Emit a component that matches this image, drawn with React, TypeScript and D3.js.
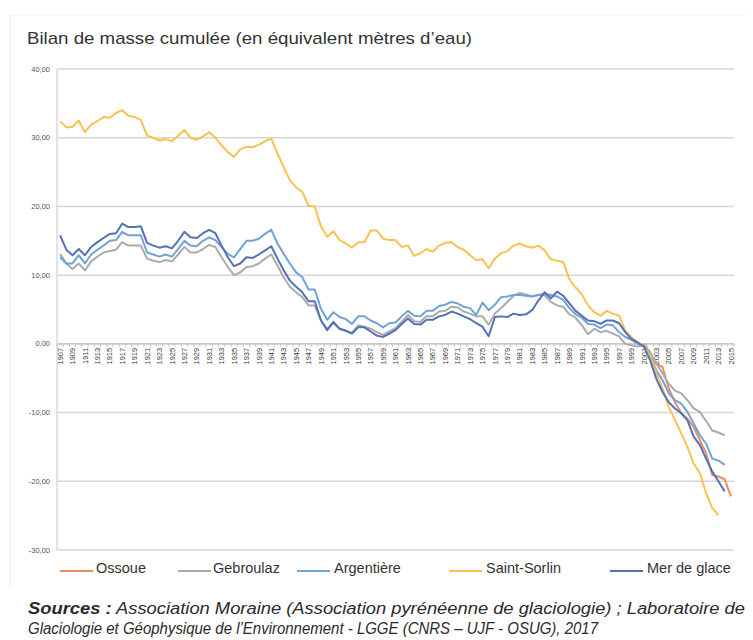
import * as d3 from "d3";

const years: number[] = d3.range(1907, 2016);
const labelYears = years.filter((y) => (y - 1907) % 2 === 0);
const yTicks = [40, 30, 20, 10, 0, -10, -20, -30];

// 1907..2014
const gebroulaz = [
  13.1, 11.7, 10.9, 11.7, 10.7, 12.0, 12.7, 13.3, 13.5, 13.7,
  14.8, 14.3, 14.3, 14.3, 12.4, 12.1, 11.9, 12.2, 12.0, 13.0,
  14.1, 13.3, 13.3, 13.8, 14.4, 14.1, 12.6, 11.2, 10.0, 10.4,
  11.2, 11.3, 11.7, 12.4, 13.0, 11.4, 9.7, 8.3, 7.5, 6.8,
  5.6, 5.6, 3.4, 2.2, 3.0, 2.2, 1.9, 1.6, 2.7, 2.5,
  2.2, 1.7, 1.3, 1.8, 2.3, 3.2, 4.2, 3.3, 3.2, 4.0,
  4.0, 4.7, 4.8, 5.4, 5.3, 4.7, 4.4, 4.0, 4.0, 2.8,
  4.4, 5.2, 6.1, 7.0, 7.4, 7.2, 6.9, 7.1, 7.1, 6.1,
  5.6, 5.4, 4.3, 3.8, 2.7, 1.4, 2.2, 1.7, 1.9, 1.5,
  1.1, 0.0, -0.2, -0.4, -0.1, -1.2, -2.9, -4.3, -5.8, -6.8,
  -7.2, -8.2, -9.4, -9.9, -11.2, -12.6, -12.9, -13.3,
];

// 1907..2014
const argentiere = [
  12.6, 11.7, 11.7, 12.9, 11.7, 13.0, 13.7, 14.3, 15.0, 15.1,
  16.3, 15.8, 15.8, 15.8, 13.3, 13.0, 12.7, 13.0, 12.7, 13.8,
  15.0, 14.3, 14.2, 15.0, 15.5, 15.1, 14.1, 13.1, 12.6, 13.8,
  15.0, 15.0, 15.3, 16.0, 16.6, 14.6, 13.1, 11.7, 10.4, 9.7,
  7.9, 7.9, 5.1, 3.5, 4.6, 3.9, 3.6, 2.9, 4.0, 4.0,
  3.4, 3.0, 2.4, 3.0, 3.1, 4.0, 4.8, 4.1, 4.0, 4.8,
  4.8, 5.5, 5.7, 6.1, 5.9, 5.4, 5.2, 4.2, 6.0, 4.9,
  5.7, 6.8, 6.9, 7.1, 7.1, 7.0, 6.9, 7.1, 7.3, 7.1,
  6.9, 6.4, 5.2, 4.3, 3.8, 2.9, 2.8, 2.3, 2.8, 2.7,
  1.7, 1.0, 0.6, 0.0, -0.4, -1.7, -3.9, -5.3, -7.2, -8.2,
  -8.7, -9.9, -11.6, -13.3, -14.5, -16.7, -17.0, -17.6,
];

// 1907..2013
const saintSorlin = [
  32.4, 31.5, 31.6, 32.5, 30.8, 31.9, 32.4, 33.0, 32.9, 33.6,
  34.0, 33.2, 33.0, 32.6, 30.3, 30.0, 29.6, 29.8, 29.5, 30.3,
  31.1, 30.0, 29.7, 30.2, 30.8, 30.0, 28.9, 27.9, 27.2, 28.3,
  28.7, 28.6, 29.0, 29.5, 29.9, 27.7, 25.7, 23.8, 22.8, 22.1,
  20.1, 20.0, 17.1, 15.6, 16.4, 15.1, 14.6, 14.0, 14.8, 14.8,
  16.5, 16.5, 15.3, 15.1, 15.1, 14.1, 14.3, 12.8, 13.2, 13.8,
  13.4, 14.3, 14.7, 14.8, 14.1, 13.7, 12.9, 12.2, 12.3, 11.0,
  12.4, 13.2, 13.5, 14.3, 14.6, 14.2, 14.0, 14.3, 13.6, 12.3,
  12.1, 11.9, 9.4, 8.2, 7.2, 5.6, 4.6, 4.1, 4.8, 4.4,
  4.1, 1.9, 1.0, 0.2, -0.4, -1.7, -4.3, -6.5, -9.2, -11.1,
  -13.0, -15.0, -17.4, -18.8, -21.7, -23.9, -24.9,
];

// 1907..2014
const merDeGlace = [
  15.8, 13.7, 12.9, 13.8, 12.9, 14.1, 14.8, 15.4, 16.0, 16.1,
  17.5, 17.0, 17.0, 17.1, 14.7, 14.3, 14.0, 14.2, 13.9, 15.0,
  16.3, 15.5, 15.4, 16.1, 16.6, 16.1, 14.3, 12.6, 11.3, 11.7,
  12.6, 12.5, 13.0, 13.6, 14.2, 12.4, 10.7, 9.2, 8.3, 7.5,
  6.2, 6.2, 3.4, 2.0, 3.2, 2.2, 1.9, 1.5, 2.4, 2.4,
  1.8, 1.2, 1.0, 1.5, 2.0, 2.9, 3.7, 2.9, 2.8, 3.5,
  3.5, 4.0, 4.2, 4.7, 4.4, 4.0, 3.6, 3.0, 2.5, 1.1,
  3.9, 4.0, 3.9, 4.4, 4.2, 4.3, 4.9, 6.3, 7.5, 6.6,
  7.6, 7.0, 5.9, 4.8, 4.1, 3.4, 3.3, 2.9, 3.4, 3.4,
  3.0, 1.7, 0.7, 0.2, -0.4, -2.4, -5.1, -7.0, -8.5, -9.4,
  -10.1, -11.1, -13.5, -14.7, -16.7, -18.6, -20.0, -21.5,
];

// 2001..2015
const ossoueStart = 2001;
const ossoue = [
  0.0, -1.4, -2.9, -3.4, -6.5, -8.5, -10.1, -10.9, -12.1, -14.0,
  -15.9, -19.1, -19.3, -19.7, -22.2,
];

const series = [
  { name: "Ossoue", color: "#EE8C5E", start: ossoueStart, values: ossoue, lx: 60, tx: 96 },
  { name: "Gebroulaz", color: "#ABABAB", start: 1907, values: gebroulaz, lx: 178, tx: 213 },
  { name: "Argentière", color: "#6FA3D8", start: 1907, values: argentiere, lx: 297, tx: 334 },
  { name: "Saint-Sorlin", color: "#F7C252", start: 1907, values: saintSorlin, lx: 449, tx: 486 },
  { name: "Mer de glace", color: "#5371B4", start: 1907, values: merDeGlace, lx: 610, tx: 647 },
];

const narrow = "'Liberation Sans Narrow', 'Liberation Sans', Arial, sans-serif";

export default function App() {
  const W = 753;
  const H = 640;
  const left = 57;
  const right = 734;
  const top = 69;
  const bottom = 550;

  const x = d3.scaleBand<number>().domain(years).range([left, right]).padding(0);
  const cx = (yr: number) => (x(yr) ?? 0) + x.bandwidth() / 2;
  const y = d3.scaleLinear().domain([-30, 40]).range([bottom, top]);
  const y0 = y(0);

  const line = d3
    .line<[number, number]>()
    .x((d) => cx(d[0]))
    .y((d) => y(d[1]));

  return (
    <div style={{ position: "absolute", left: 0, top: 0, background: "#fff" }}>
      <svg width={W} height={H} style={{ display: "block", fontFamily: "'Liberation Sans', Arial, sans-serif" }}>
        <rect x={0} y={0} width={W} height={H} fill="#fff" />
        <line x1={10} x2={10} y1={15} y2={588} stroke="#ececec" />
        <line x1={10} x2={745} y1={15} y2={15} stroke="#f0f0f0" />

        <text x={27} y={44} fontSize={17} fill="#333" textLength={445} lengthAdjust="spacingAndGlyphs">
          Bilan de masse cumulée (en équivalent mètres d’eau)
        </text>

        {yTicks.map((t) => (
          <g key={t}>
            <line x1={left} x2={right} y1={y(t)} y2={y(t)} stroke="#d6d6d6" strokeWidth={1.5} />
            <text x={50} y={y(t) + 2.5} fontSize={7.5} fill="#555" textAnchor="end">
              {t.toFixed(2).replace(".", ",")}
            </text>
          </g>
        ))}

        <line x1={left} x2={left} y1={top} y2={bottom} stroke="#c8c8c8" />
        <line x1={left} x2={right} y1={y0} y2={y0} stroke="#c4c4c4" strokeWidth={1.2} />
        {years.map((yr) => (
          <line key={yr} x1={x(yr)} x2={x(yr)} y1={y0} y2={y0 + 3} stroke="#c4c4c4" />
        ))}
        <line x1={right} x2={right} y1={y0} y2={y0 + 3} stroke="#c4c4c4" />
        {labelYears.map((yr) => (
          <text
            key={yr}
            transform={`translate(${cx(yr) + 2.7},${y0 + 4}) rotate(-90)`}
            fontSize={7.5}
            fill="#3a3a3a"
            textAnchor="end"
          >
            {yr}
          </text>
        ))}

        {series.map((s) => (
          <path
            key={s.name}
            d={line(s.values.map((v, i) => [s.start + i, v] as [number, number])) ?? ""}
            fill="none"
            stroke={s.color}
            strokeWidth={2}
            strokeLinejoin="round"
          />
        ))}

        {series.map((s) => (
          <g key={s.name}>
            <line x1={s.lx} x2={s.lx + 33} y1={571} y2={571} stroke={s.color} strokeWidth={2} />
            <text x={s.tx} y={573} fontSize={14.5} fill="#333" fontFamily={narrow}>
              {s.name}
            </text>
          </g>
        ))}

        <text x={28} y={614} fontSize={16} fill="#2a2a2a" fontStyle="italic" fontFamily={narrow} textLength={717} lengthAdjust="spacingAndGlyphs">
          <tspan fontWeight="bold">Sources :</tspan> Association Moraine (Association pyrénéenne de glaciologie) ; Laboratoire de
        </text>
        <text x={28} y={634} fontSize={16} fill="#2a2a2a" fontStyle="italic" fontFamily={narrow} textLength={570} lengthAdjust="spacingAndGlyphs">
          Glaciologie et Géophysique de l’Environnement - LGGE (CNRS – UJF - OSUG), 2017
        </text>
      </svg>
    </div>
  );
}
